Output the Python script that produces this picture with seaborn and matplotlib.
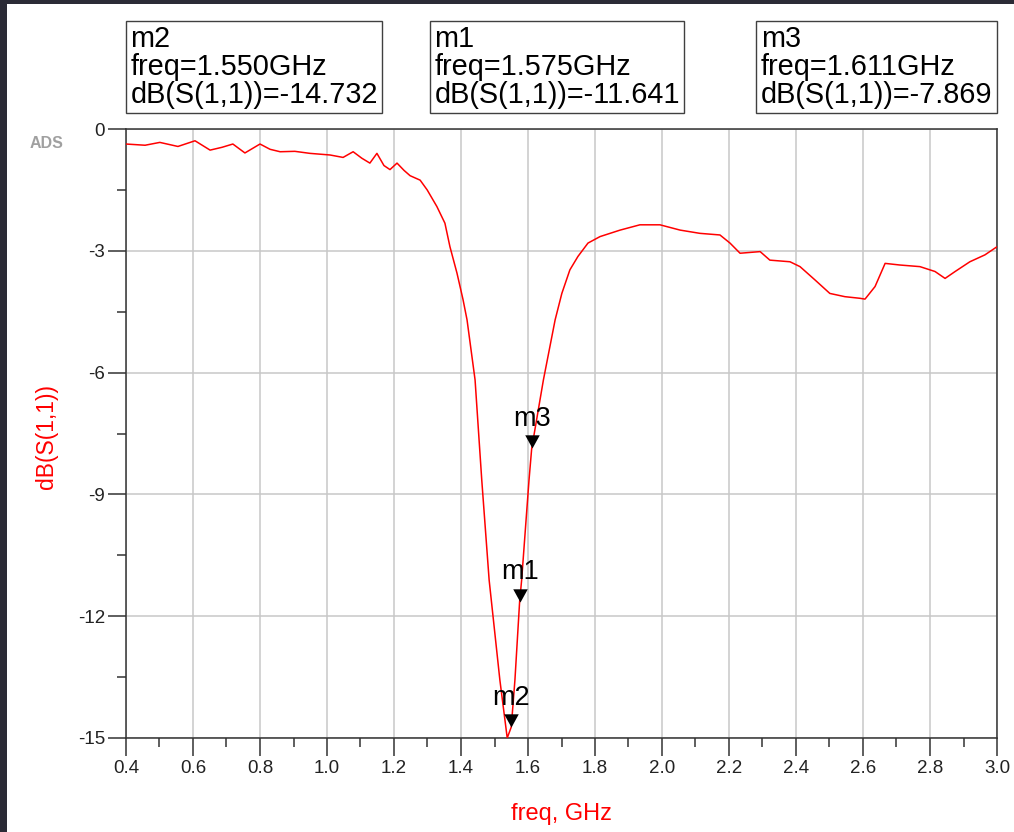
import numpy as np
import pandas as pd
import matplotlib
matplotlib.use("Agg")
import matplotlib.pyplot as plt
from matplotlib.ticker import MultipleLocator, FormatStrFormatter
from matplotlib.patches import Rectangle
import seaborn as sns

# valores (freq en GHz, |S11| en dB)
freq = [0.400, 0.457, 0.501, 0.555, 0.606, 0.651, 0.687, 0.719, 0.755, 0.800,
        0.830, 0.860, 0.904, 0.949, 1.009, 1.048, 1.078, 1.104, 1.128, 1.149,
        1.170, 1.188, 1.209, 1.230, 1.248, 1.278, 1.299, 1.328, 1.352, 1.367,
        1.388, 1.406, 1.418, 1.442, 1.462, 1.484, 1.516, 1.538, 1.550, 1.561,
        1.575, 1.581, 1.603, 1.611, 1.646, 1.681, 1.701, 1.725, 1.749, 1.779,
        1.815, 1.875, 1.934, 1.994, 2.054, 2.113, 2.173, 2.203, 2.233, 2.293,
        2.322, 2.382, 2.412, 2.457, 2.501, 2.546, 2.591, 2.606, 2.636, 2.666,
        2.710, 2.770, 2.815, 2.845, 2.875, 2.919, 2.964, 3.000]
s11 = [-0.37, -0.40, -0.33, -0.43, -0.29, -0.52, -0.45, -0.37, -0.59, -0.37,
       -0.50, -0.56, -0.55, -0.60, -0.64, -0.70, -0.56, -0.72, -0.84, -0.60,
       -0.90, -1.00, -0.84, -1.02, -1.15, -1.26, -1.50, -1.91, -2.32, -2.90,
       -3.55, -4.20, -4.70, -6.18, -8.65, -11.11, -13.57, -15.00, -14.73, -13.57,
       -11.64, -11.11, -8.65, -7.87, -6.18, -4.70, -4.05, -3.47, -3.14, -2.81,
       -2.65, -2.49, -2.36, -2.36, -2.49, -2.57, -2.61, -2.81, -3.06, -3.02,
       -3.23, -3.27, -3.39, -3.72, -4.05, -4.13, -4.17, -4.19, -3.88, -3.31,
       -3.35, -3.39, -3.51, -3.68, -3.51, -3.27, -3.10, -2.90]

# marcadores
mk_names = ["m2", "m1", "m3"]
mk_freq = [1.550, 1.575, 1.611]
mk_db = [-14.732, -11.641, -7.869]

xticks = [0.4, 0.6, 0.8, 1.0, 1.2, 1.4, 1.6, 1.8, 2.0, 2.2, 2.4, 2.6, 2.8, 3.0]
yticks = [0, -3, -6, -9, -12, -15]

sns.set_theme(style="white")
plt.rcParams["font.family"] = ["Liberation Sans", "DejaVu Sans"]
plt.rcParams["axes.unicode_minus"] = False

W, H = 1014, 832
fig = plt.figure(figsize=(W / 100, H / 100), dpi=100)
fig.patch.set_facecolor("white")
ax = fig.add_axes([126 / W, (H - 738) / H, 871 / W, 609 / H])

df = pd.DataFrame({"freq": freq, "db": s11})
sns.lineplot(data=df, x="freq", y="db", color="#ff0000", lw=1.1, ax=ax, zorder=3)

# triangulos con la punta en el punto
tri = [(-0.55, 1.0), (0.55, 1.0), (0.0, 0.0)]
ax.plot(mk_freq, mk_db, ls="none", marker=tri, ms=19, mew=0, color="black", zorder=4)
for n, f, d in zip(mk_names, mk_freq, mk_db):
    ax.annotate(n, (f, d), xytext=(0, 16), textcoords="offset points",
                ha="center", va="baseline", fontsize=19.5, color="black", zorder=5)

ax.set_xlim(0.4, 3.0)
ax.set_ylim(-15, 0)
ax.set_xticks(xticks)
ax.set_yticks(yticks)
ax.xaxis.set_minor_locator(MultipleLocator(0.1))
ax.yaxis.set_minor_locator(MultipleLocator(1.5))
ax.xaxis.set_major_formatter(FormatStrFormatter("%.1f"))
ax.yaxis.set_major_formatter(FormatStrFormatter("%d"))
ax.tick_params(which="both", bottom=True, left=True, top=False, right=False,
               direction="out", color="#333333", width=1.1)
ax.tick_params(which="major", length=13, labelsize=13.5, labelcolor="#222222")
ax.tick_params(axis="x", which="major", pad=2.5)
ax.tick_params(axis="y", which="major", pad=2)
ax.tick_params(which="minor", length=6.5)

ax.grid(True, which="major", color="#c8c8c8", lw=1.1)
ax.set_axisbelow(True)
for sp in ax.spines.values():
    sp.set_visible(True)
    sp.set_color("#333333")
    sp.set_linewidth(1.1)

ax.set_xlabel("freq, GHz", color="#ff0000", fontsize=17, va="top")
ax.xaxis.set_label_coords(0.5, -0.1067)
ax.set_ylabel("dB(S(1,1))", color="#ff0000", fontsize=16.5)
ax.yaxis.set_label_coords(-0.078, 0.495)

# cajas de los marcadores
box_left = [130.3, 434.3, 760.8]
for n, f, d, x0 in zip(mk_names, mk_freq, mk_db, box_left):
    s = f"{n}\nfreq={f:.3f}GHz\ndB(S(1,1))={d:.3f}"
    fig.text(x0 / W, 1 - 25 / H, s, ha="left", va="top", fontsize=20.8,
             linespacing=1.0, color="black",
             bbox=dict(boxstyle="square,pad=0.15", fc="white", ec="#404040", lw=1))

fig.text(46.5 / W, 1 - 143 / H, "ADS", ha="center", va="center", fontsize=11.5,
         fontweight="bold", color="#a0a0a0")

# borde oscuro de la captura
fig.add_artist(Rectangle((0, 0), 7 / W, 1, transform=fig.transFigure,
                         color="#2b2b36", lw=0))
fig.add_artist(Rectangle((0, 1 - 4 / H), 1, 4 / H, transform=fig.transFigure,
                         color="#2b2b36", lw=0))

fig.savefig("out.png", dpi=100)
